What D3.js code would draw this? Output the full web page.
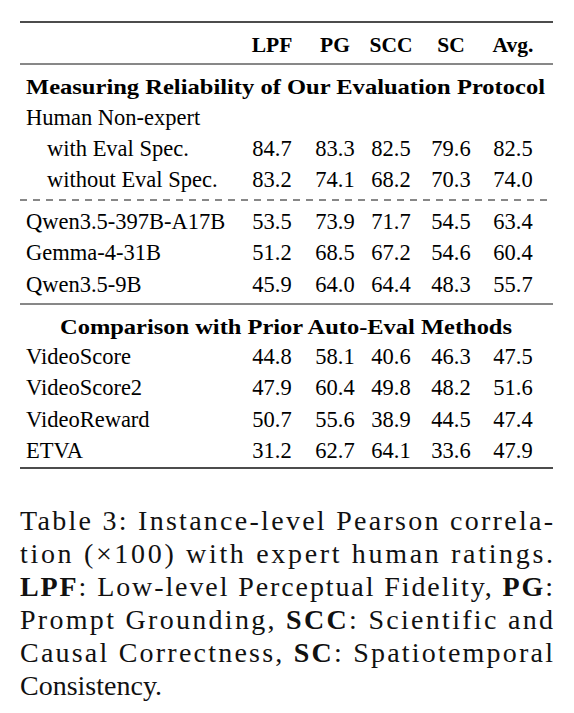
<!DOCTYPE html>
<html><head><meta charset="utf-8">
<script src="https://cdn.jsdelivr.net/npm/d3@7"></script>
<style>body{margin:0;background:#fff}</style>
</head><body>
<svg id="c" width="574" height="713"></svg>
<script>
var COLUMNS = ['LPF', 'PG', 'SCC', 'SC', 'Avg.']
var ROWS = [
    { label: 'Measuring Reliability of Our Evaluation Protocol', kind: 'section' },
    { label: 'Human Non-expert', kind: 'plain' },
    { label: 'with Eval Spec.', kind: 'indent', values: [84.7, 83.3, 82.5, 79.6, 82.5] },
    { label: 'without Eval Spec.', kind: 'indent', values: [83.2, 74.1, 68.2, 70.3, 74.0] },
    { label: 'Qwen3.5-397B-A17B', kind: 'plain', values: [53.5, 73.9, 71.7, 54.5, 63.4] },
    { label: 'Gemma-4-31B', kind: 'plain', values: [51.2, 68.5, 67.2, 54.6, 60.4] },
    { label: 'Qwen3.5-9B', kind: 'plain', values: [45.9, 64.0, 64.4, 48.3, 55.7] },
    { label: 'Comparison with Prior Auto-Eval Methods', kind: 'section2' },
    { label: 'VideoScore', kind: 'plain', values: [44.8, 58.1, 40.6, 46.3, 47.5] },
    { label: 'VideoScore2', kind: 'plain', values: [47.9, 60.4, 49.8, 48.2, 51.6] },
    { label: 'VideoReward', kind: 'plain', values: [50.7, 55.6, 38.9, 44.5, 47.4] },
    { label: 'ETVA', kind: 'plain', values: [31.2, 62.7, 64.1, 33.6, 47.9] }
]
var ROW_Y = [87, 118, 149, 180, 222, 253, 285, 327, 357, 388, 420, 451]
var CAPTION = [
    [['Table 3:  Instance-level Pearson correla-', false]],
    [['tion (×100) with expert human ratings.', false]],
    [['LPF', true], [': Low-level Perceptual Fidelity, ', false], ['PG', true], [':', false]],
    [['Prompt Grounding, ', false], ['SCC', true], [': Scientific and', false]],
    [['Causal Correctness, ', false], ['SC', true], [': Spatiotemporal', false]],
    [['Consistency.', false]]
]

const svg = d3.select('#c')
const font = 'Liberation Serif, serif'
const colX = { 'LPF': 272, 'PG': 335, 'SCC': 391, 'SC': 451, 'Avg.': 513 }

function rule(y, w, dash) {
    svg.append('line').attr('x1', 20).attr('x2', 553).attr('y1', y).attr('y2', y)
        .attr('stroke', '#111').attr('stroke-width', w).attr('stroke-dasharray', dash || null)
}
rule(22, 1.6); rule(64, 1); rule(200, 1, '7,6'); rule(304, 1); rule(468, 1.6)

svg.selectAll('.hd').data(COLUMNS).enter().append('text')
    .attr('x', d => colX[d]).attr('y', 52).attr('text-anchor', 'middle')
    .attr('font-family', font).attr('font-weight', 'bold').attr('font-size', 21.5).text(d => d)

ROWS.forEach((r, i) => {
    const y = ROW_Y[i] + 7
    const t = svg.append('text').attr('y', y).attr('font-family', font).text(r.label)
    if (r.kind === 'section') t.attr('x', 26).attr('font-weight', 'bold').attr('font-size', 22)
        .attr('textLength', 519).attr('lengthAdjust', 'spacingAndGlyphs')
    else if (r.kind === 'section2') t.attr('x', 60).attr('font-weight', 'bold').attr('font-size', 20.5)
        .attr('textLength', 452).attr('lengthAdjust', 'spacingAndGlyphs')
    else t.attr('x', r.kind === 'indent' ? 47 : 26).attr('font-size', 22.5)
    if (r.values) {
        svg.selectAll(null).data(r.values).enter().append('text')
            .attr('x', (d, j) => colX[COLUMNS[j]]).attr('y', y).attr('text-anchor', 'middle')
            .attr('font-family', font).attr('font-size', 22.5).text(d => d.toFixed(1))
    }
})

CAPTION.forEach((line, i) => {
    const t = svg.append('text').attr('x', 20).attr('y', 530 + i * 33)
        .attr('font-family', font).attr('font-size', 28).attr('fill', '#111')
    if (i < CAPTION.length - 1) t.attr('textLength', 533).attr('lengthAdjust', 'spacing')
    line.forEach(p => t.append('tspan').attr('font-weight', p[1] ? 'bold' : 'normal').text(p[0]))
})
</script>
</body></html>
